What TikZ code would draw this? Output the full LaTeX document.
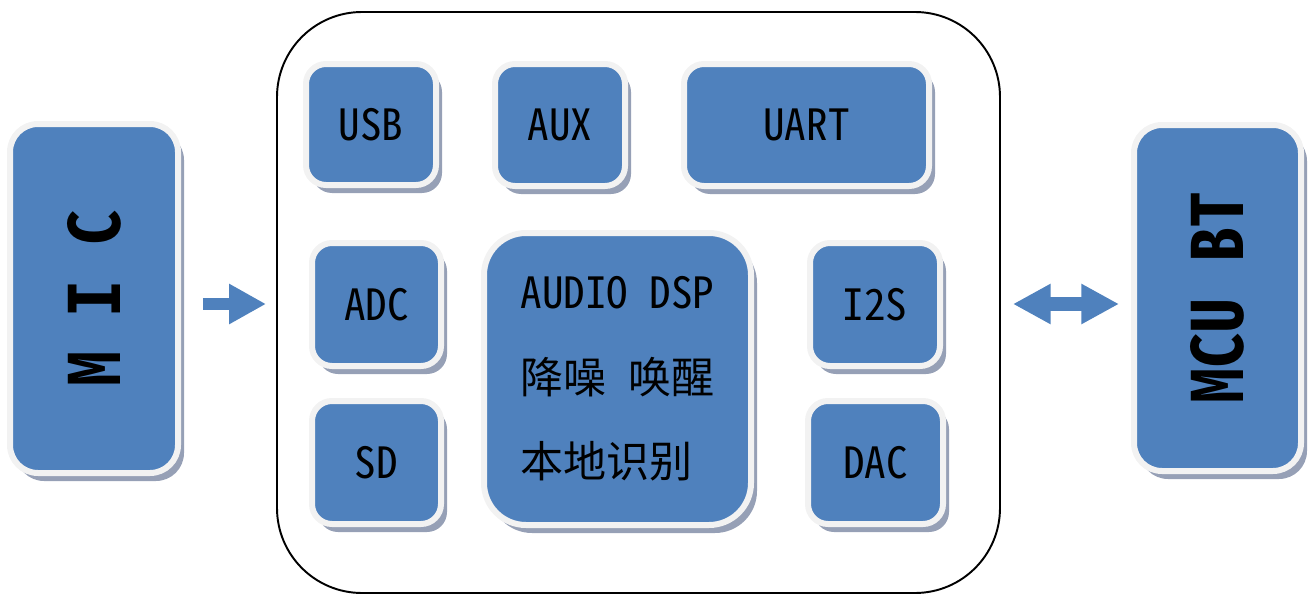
\documentclass[tikz,border=0pt]{standalone}
\usepackage{fontspec}
\usepackage{graphicx}
\usetikzlibrary{shadows,arrows.meta}

\newfontfamily\blockfont{Noto Sans Mono CJK SC}
\definecolor{blockblue}{RGB}{79,129,189}
\definecolor{blockrim}{RGB}{242,242,242}
\definecolor{blockshade}{RGB}{150,160,182}
\newdimen\pxu
\pxu=0.02cm

\tikzset{
  block/.style={draw=blockrim, line width=6\pxu, fill=blockblue, rounded corners=20\pxu, inner sep=0pt,
    drop shadow={shadow xshift=6\pxu, shadow yshift=-8\pxu, fill=blockshade, opacity=1},
    font=\blockfont\fontsize{24.5}{28}\selectfont},
  side block/.style={block, rounded corners=28\pxu, font=\blockfont\bfseries\fontsize{40}{44}\selectfont},
  flow arrow/.style={draw=blockblue, line width=6.8pt, -{Triangle[length=21pt, width=21.5pt]}},
}

\begin{document}
\begin{tikzpicture}[x=0.02cm, y=-0.02cm]

\useasboundingbox (0,0) rectangle (1316,595);

\node[draw, line width=1.1pt, rounded corners=85\pxu, minimum width=723\pxu, minimum height=581\pxu] (frame) at (638.5,302.5) {};

\node[side block, minimum width=168\pxu, minimum height=349\pxu] (mic) at (94,298.5) {\rotatebox{90}{M I C}};
\node[side block, minimum width=167\pxu, minimum height=346\pxu] (mcu) at (1217.5,298) {\rotatebox{90}{MCU BT}};

% top row
\node[block, minimum width=130\pxu, minimum height=121\pxu] (usb) at (371,124.5) {USB};
\node[block, minimum width=130\pxu, minimum height=122\pxu] (aux) at (560,125) {AUX};
\node[block, minimum width=245\pxu, minimum height=122\pxu] (uart) at (806.5,125) {UART};

% left and right columns
\node[block, minimum width=129\pxu, minimum height=123\pxu] (adc) at (376.5,304.5) {ADC};
\node[block, minimum width=129\pxu, minimum height=123\pxu] (sd) at (376.5,462.5) {SD};
\node[block, minimum width=130\pxu, minimum height=123\pxu] (i2s) at (875,304.5) {I2S};
\node[block, minimum width=135\pxu, minimum height=123\pxu] (dac) at (875.5,462.5) {DAC};

\node[block, rounded corners=42\pxu, minimum width=267\pxu, minimum height=292\pxu, align=left,
  font=\blockfont\fontsize{24.5}{48}\selectfont] (dsp) at (617.5,379) {AUDIO DSP\\降噪 唤醒\\本地识别};

\coordinate (arrow row) at (0,304);
\draw[flow arrow, shorten <=12.5pt, shorten >=5.7pt] (mic.east |- arrow row) -- (frame.west |- arrow row);
\draw[flow arrow, line width=7.9pt, {Triangle[length=21.5pt, width=21.5pt]}-{Triangle[length=21.5pt, width=21.5pt]},
  shorten <=6.8pt, shorten >=6.8pt] (frame.east |- arrow row) -- (mcu.west |- arrow row);

\end{tikzpicture}
\end{document}
